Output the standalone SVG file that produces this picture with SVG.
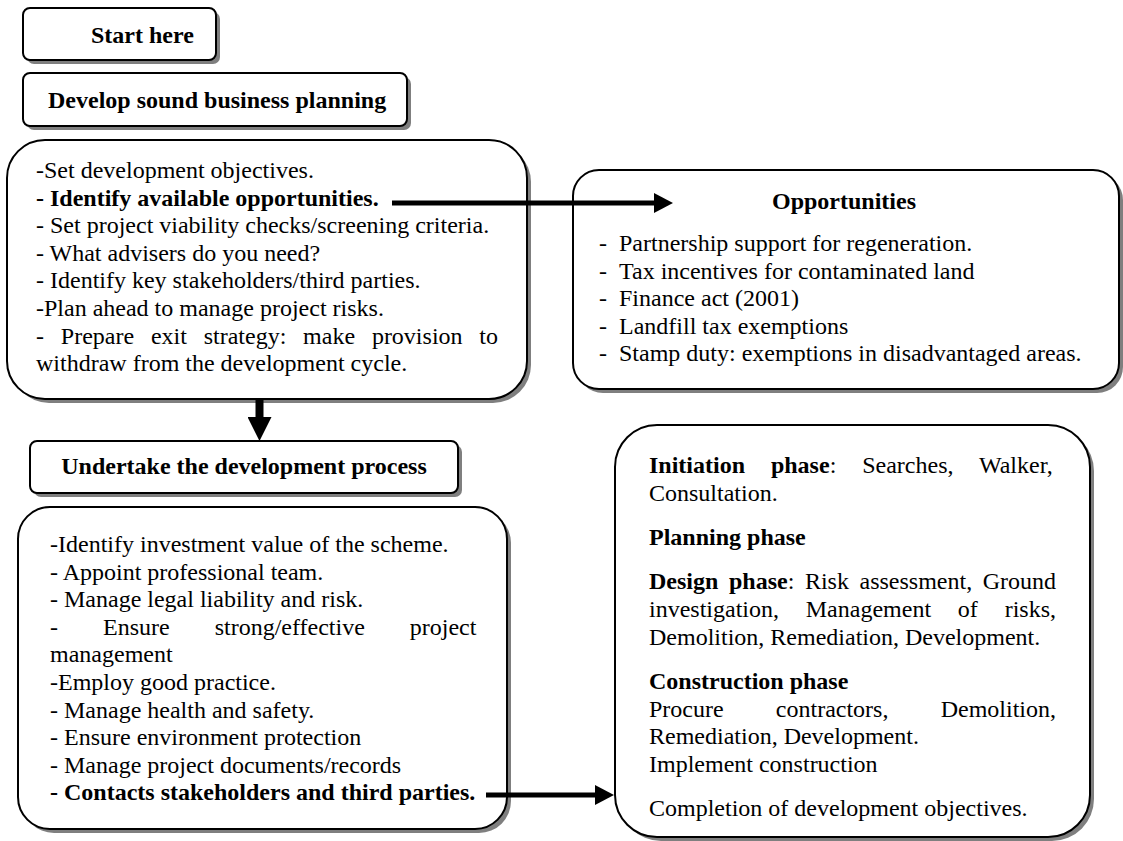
<svg xmlns="http://www.w3.org/2000/svg" width="1123" height="841" viewBox="0 0 1123 841">
<defs>
<style>
.bx{fill:#fff;stroke:#000;stroke-width:2}
.sh{fill:#7f7f7f;stroke:none}
.t{font-family:"Liberation Serif","Times New Roman",serif;font-size:24px;fill:#000}
.b{font-weight:bold}
.ln{stroke:#000;stroke-width:5;fill:none}
</style>
<marker id="ah" markerUnits="userSpaceOnUse" markerWidth="20" markerHeight="20" refX="1" refY="10" orient="auto" viewBox="0 0 20 20">
<path d="M0,0 L19,10 L0,20 Z" fill="#000"/>
</marker>
<marker id="ahd" markerUnits="userSpaceOnUse" markerWidth="24" markerHeight="24" refX="1" refY="12" orient="auto" viewBox="0 0 24 24">
<path d="M0,0 L24,12 L0,24 Z" fill="#000"/>
</marker>
</defs>
<rect width="1123" height="841" fill="#fff"/>

<g id="start">
<rect class="sh" x="27" y="12" width="193" height="52" rx="7"/>
<rect class="bx" x="23" y="8" width="193" height="52" rx="7"/>
<text class="t b" x="91" y="43">Start here</text>
</g>

<g id="develop">
<rect class="sh" x="27" y="77" width="384" height="53" rx="7"/>
<rect class="bx" x="23" y="73" width="384" height="53" rx="7"/>
<text class="t b" x="48" y="108">Develop sound business planning</text>
</g>

<g id="planning-list">
<rect class="sh" x="11" y="144" width="520" height="259" rx="38"/>
<rect class="bx" x="7" y="140" width="520" height="259" rx="38"/>
<text class="t" x="36" y="178">-Set development objectives.</text>
<text class="t b" x="36" y="205.6">- Identify available opportunities.</text>
<text class="t" x="36" y="233.2">- Set project viability checks/screening criteria.</text>
<text class="t" x="36" y="260.8">- What advisers do you need?</text>
<text class="t" x="36" y="288.4">- Identify key stakeholders/third parties.</text>
<text class="t" x="36" y="316">-Plan ahead to manage project risks.</text>
<text class="t" x="36" y="343.6" word-spacing="10.8">- Prepare exit strategy: make provision to</text>
<text class="t" x="36" y="371.2">withdraw from the development cycle.</text>
</g>

<g id="opportunities">
<rect class="sh" x="577" y="174" width="546" height="219" rx="26"/>
<rect class="bx" x="573" y="170" width="546" height="219" rx="26"/>
<text class="t b" x="844" y="209" text-anchor="middle">Opportunities</text>
<text class="t" x="599" y="251">-<tspan x="619">Partnership support for regeneration.</tspan></text>
<text class="t" x="599" y="278.6">-<tspan x="619">Tax incentives for contaminated land</tspan></text>
<text class="t" x="599" y="306.2">-<tspan x="619">Finance act (2001)</tspan></text>
<text class="t" x="599" y="333.8">-<tspan x="619">Landfill tax exemptions</tspan></text>
<text class="t" x="599" y="361.4">-<tspan x="619">Stamp duty: exemptions in disadvantaged areas.</tspan></text>
</g>

<g id="undertake">
<rect class="sh" x="34" y="445" width="428" height="52" rx="7"/>
<rect class="bx" x="30" y="441" width="428" height="52" rx="7"/>
<text class="t b" x="244" y="474" text-anchor="middle">Undertake the development process</text>
</g>

<g id="process-list">
<rect class="sh" x="22" y="511" width="489" height="322" rx="32"/>
<rect class="bx" x="18" y="507" width="489" height="322" rx="32"/>
<text class="t" x="50" y="552">-Identify investment value of the scheme.</text>
<text class="t" x="50" y="579.6">- Appoint professional team.</text>
<text class="t" x="50" y="607.2">- Manage legal liability and risk.</text>
<text class="t" x="50" y="634.8" word-spacing="39">- Ensure strong/effective project</text>
<text class="t" x="50" y="662.4">management</text>
<text class="t" x="50" y="690">-Employ good practice.</text>
<text class="t" x="50" y="717.6">- Manage health and safety.</text>
<text class="t" x="50" y="745.2">- Ensure environment protection</text>
<text class="t" x="50" y="772.8">- Manage project documents/records</text>
<text class="t b" x="50" y="800.4">- Contacts stakeholders and third parties.</text>
</g>

<g id="phases">
<rect class="sh" x="619" y="429" width="475" height="412" rx="42"/>
<rect class="bx" x="615" y="425" width="475" height="412" rx="42"/>
<text class="t" x="649" y="473" word-spacing="19.9"><tspan class="b">Initiation phase</tspan>: Searches, Walker,</text>
<text class="t" x="649" y="500.6">Consultation.</text>
<text class="t b" x="649" y="545">Planning phase</text>
<text class="t" x="649" y="589.4" word-spacing="4.6"><tspan class="b">Design phase</tspan>: Risk assessment, Ground</text>
<text class="t" x="649" y="617" word-spacing="20.8">investigation, Management of risks,</text>
<text class="t" x="649" y="644.6">Demolition, Remediation, Development.</text>
<text class="t b" x="649" y="689">Construction phase</text>
<text class="t" x="649" y="716.6" word-spacing="46.2">Procure contractors, Demolition,</text>
<text class="t" x="649" y="744.2">Remediation, Development.</text>
<text class="t" x="649" y="771.8">Implement construction</text>
<text class="t" x="649" y="816.2">Completion of development objectives.</text>
</g>

<g id="connectors">
<line class="ln" x1="392" y1="203" x2="655" y2="203" marker-end="url(#ah)"/>
<line x1="259.5" y1="399" x2="259.5" y2="418" stroke="#000" stroke-width="8" marker-end="url(#ahd)"/>
<line class="ln" x1="486" y1="795" x2="596" y2="795" marker-end="url(#ah)"/>
</g>
</svg>
